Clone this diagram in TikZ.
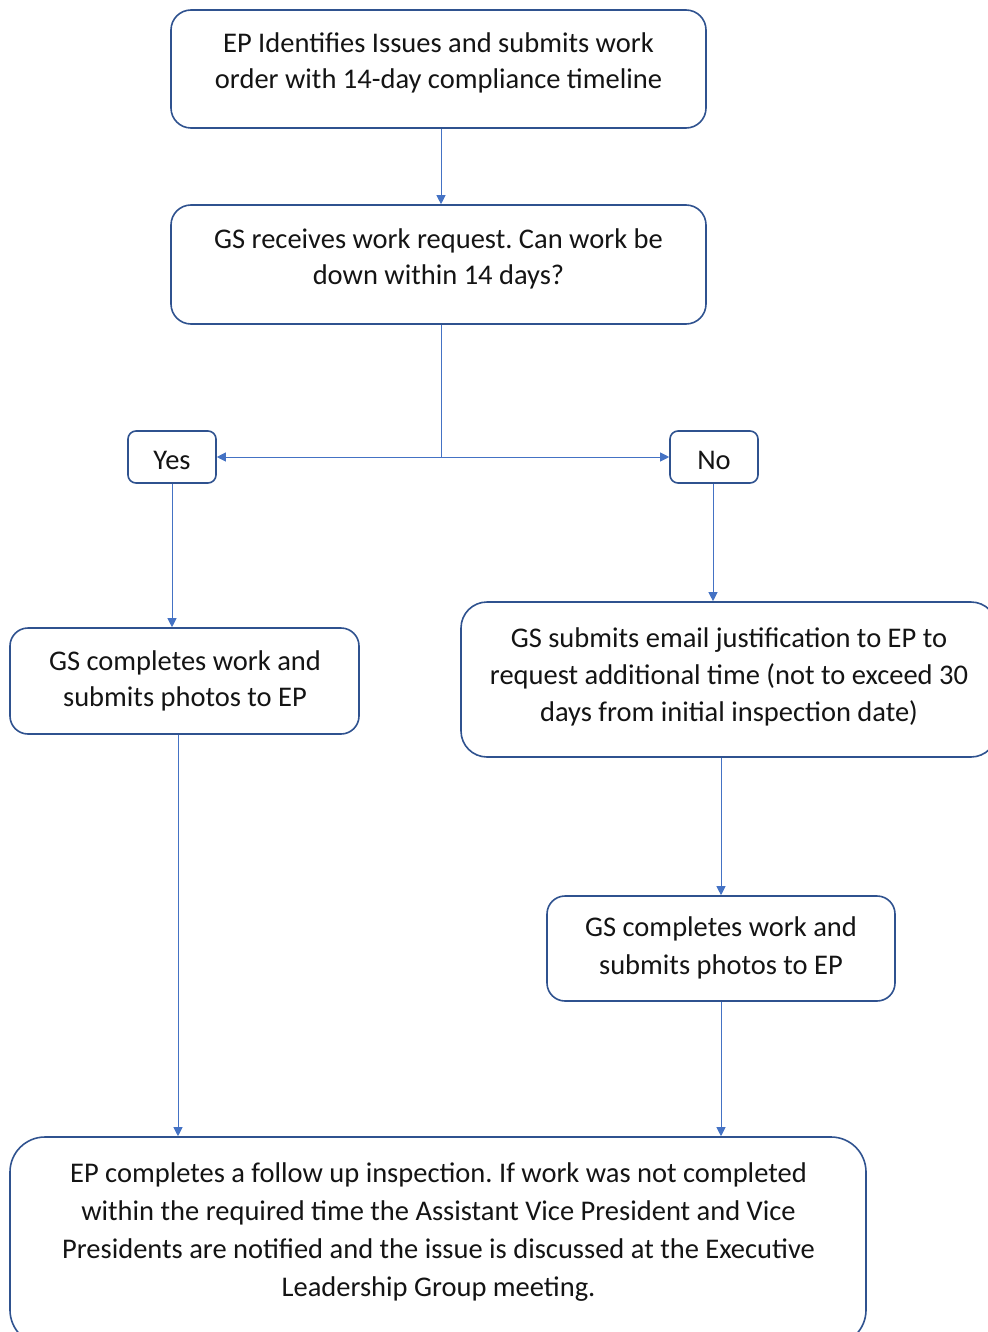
\documentclass[tikz,border=0pt]{standalone}
\usepackage{fontspec}
\setmainfont{Carlito}
\usetikzlibrary{arrows.meta,calc}
\definecolor{boxblue}{RGB}{47,82,143}
\definecolor{lineblue}{RGB}{68,114,196}
\definecolor{txt}{RGB}{20,20,20}
\tikzset{
  box/.style={draw=boxblue, line width=1.6pt, fill=white, inner sep=0pt},
  lbl/.style={align=center, inner sep=0pt, text=txt, font=\fontsize{28.5}{#1}\selectfont\frenchspacing},
  lbl/.default=36,
  conn/.style={draw=lineblue, line width=0.9pt},
  arr/.style={conn, -{Triangle[length=9pt,width=9pt]}}
}
\begin{document}
\begin{tikzpicture}[x=1pt,y=-1pt]
\useasboundingbox (0,0) rectangle (987,1332);
% boxes
\node[box, rounded corners=20pt, minimum width=535pt, minimum height=118pt] (b1) at (438.5,69) {};
\node[box, rounded corners=20pt, minimum width=535pt, minimum height=119pt] (b2) at (438.5,264.5) {};
\node[box, rounded corners=8pt, minimum width=88pt, minimum height=52pt] (byes) at (172,457) {};
\node[box, rounded corners=8pt, minimum width=88pt, minimum height=52pt] (bno) at (714,457) {};
\node[box, rounded corners=18pt, minimum width=349pt, minimum height=106pt] (b3) at (184.5,681) {};
\node[box, rounded corners=26pt, minimum width=536pt, minimum height=155pt] (b4) at (729,679.5) {};
\node[box, rounded corners=18pt, minimum width=348pt, minimum height=105pt] (b5) at (721,948.5) {};
\node[box, rounded corners=35pt, minimum width=856pt, minimum height=208pt] (b6) at (438,1241) {};
% texts
\node[lbl] (t1) at (438.5,63) {\strut EP Identifies Issues and submits work\\order with 14-day compliance timeline\strut};
\node[lbl] (t2) at (438.5,259) {\strut GS receives work request. Can work be\\down within 14 days?\strut};
\node[lbl] (tyes) at (172,462) {\strut Yes};
\node[lbl] (tno) at (714,462) {\strut No};
\node[lbl] (t3) at (185,681) {\strut GS completes work and\\submits photos to EP\strut};
\node[lbl=37] (t4) at (729,677) {\strut GS submits email justification to EP to\\request additional time (not to exceed 30\\days from initial inspection date)\strut};
\node[lbl=38] (t5) at (721,948) {\strut GS completes work and\\submits photos to EP\strut};
\node[lbl=38] (t6) at (438.5,1232) {\strut EP completes a follow up inspection. If work was not completed\\within the required time the Assistant Vice President and Vice\\Presidents are notified and the issue is discussed at the Executive\\Leadership Group meeting.\strut};
% connectors
\coordinate (c1) at ([xshift=2.5pt]b1.south);
\draw[arr] (c1) -- (c1 |- b2.north);
\coordinate (c2) at ([xshift=2.5pt]b2.south);
\coordinate (split) at (c2 |- byes.east);
\draw[conn] (c2) -- (split);
\draw[arr] (split) -- (byes.east);
\draw[arr] (split) -- (bno.west);
\draw[arr] (byes.south) -- (byes.south |- b3.north);
\draw[arr] ([xshift=-1pt]bno.south) -- ([xshift=-1pt]bno.south |- b4.north);
\draw[arr] (b5.north |- b4.south) -- (b5.north);
\coordinate (c3) at ([xshift=-6.5pt]b3.south);
\draw[arr] (c3) -- (c3 |- b6.north);
\draw[arr] (b5.south) -- (b5.south |- b6.north);
\end{tikzpicture}
\end{document}
